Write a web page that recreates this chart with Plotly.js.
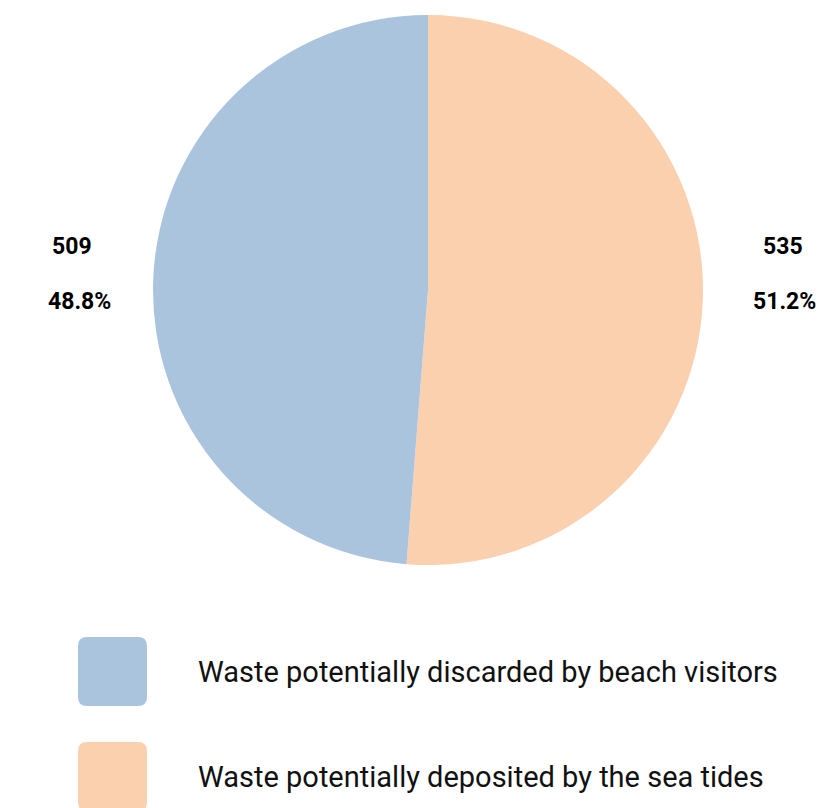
<!DOCTYPE html>
<html>
<head>
<meta charset="utf-8">
<script src="https://cdn.plot.ly/plotly-3.0.1.min.js"></script>
<style>html,body{margin:0;padding:0;background:#fff;}#chart{width:829px;height:808px;}</style>
</head>
<body>
<div id="chart"></div>
<script>
const categories = ["Waste potentially discarded by beach visitors", "Waste potentially deposited by the sea tides"];
const values = [509, 535];
const colors = ["#abc4de", "#fbd0ae"];

const W = 829, H = 808;
const px = x => x / W;
const py = y => 1 - y / H;

const total = values.reduce((a, b) => a + b, 0);
const pct = values.map(v => (100 * v / total).toFixed(1) + "%");

const annotations = [];
const labelPos = [{x: 72, xa: 79}, {x: 783, xa: 784}];
values.forEach((v, i) => {
  annotations.push({xref: "paper", yref: "paper", x: px(labelPos[i].x), y: py(246), text: "<b>" + v + "</b>",
    showarrow: false, xanchor: "center", yanchor: "middle", font: {family: "Roboto", size: 23, color: "#000"}});
  annotations.push({xref: "paper", yref: "paper", x: px(labelPos[i].xa), y: py(301), text: "<b>" + pct[i] + "</b>",
    showarrow: false, xanchor: "center", yanchor: "middle", font: {family: "Roboto", size: 23, color: "#000"}});
});

function roundRect(x0, y0, x1, y1, r) {
  const P = (x, y) => px(x) + "," + py(y);
  return "M" + P(x0 + r, y0) + " L" + P(x1 - r, y0) + " Q" + P(x1, y0) + " " + P(x1, y0 + r) +
    " L" + P(x1, y1 - r) + " Q" + P(x1, y1) + " " + P(x1 - r, y1) +
    " L" + P(x0 + r, y1) + " Q" + P(x0, y1) + " " + P(x0, y1 - r) +
    " L" + P(x0, y0 + r) + " Q" + P(x0, y0) + " " + P(x0 + r, y0) + " Z";
}

const shapes = [];
categories.forEach((c, i) => {
  const top = 637 + i * 105;
  shapes.push({type: "path", xref: "paper", yref: "paper", path: roundRect(78, top, 147, top + 69, 9),
    fillcolor: colors[i], line: {width: 0}, layer: "above"});
  annotations.push({xref: "paper", yref: "paper", x: px(196), y: py(top + 35), text: c, showarrow: false,
    xanchor: "left", yanchor: "middle", font: {family: "Roboto", size: 29, color: "#111"}});
});

// Draw slices in reverse order clockwise so the first category sits on the left
const data = [{
  type: "pie",
  labels: categories.slice().reverse(),
  values: values.slice().reverse(),
  sort: false,
  direction: "clockwise",
  rotation: 0,
  marker: {colors: colors.slice().reverse(), line: {width: 0}},
  textinfo: "none",
  hoverinfo: "label+value+percent",
  domain: {x: [px(428 - 275), px(428 + 275)], y: [py(565), py(15)]},
  showlegend: false
}];

const layout = {
  width: W, height: H,
  margin: {l: 0, r: 0, t: 0, b: 0},
  paper_bgcolor: "#ffffff",
  plot_bgcolor: "#ffffff",
  showlegend: false,
  annotations: annotations,
  shapes: shapes,
  font: {family: "Roboto"}
};

Plotly.newPlot("chart", data, layout, {displayModeBar: false, staticPlot: true});
</script>
</body>
</html>
